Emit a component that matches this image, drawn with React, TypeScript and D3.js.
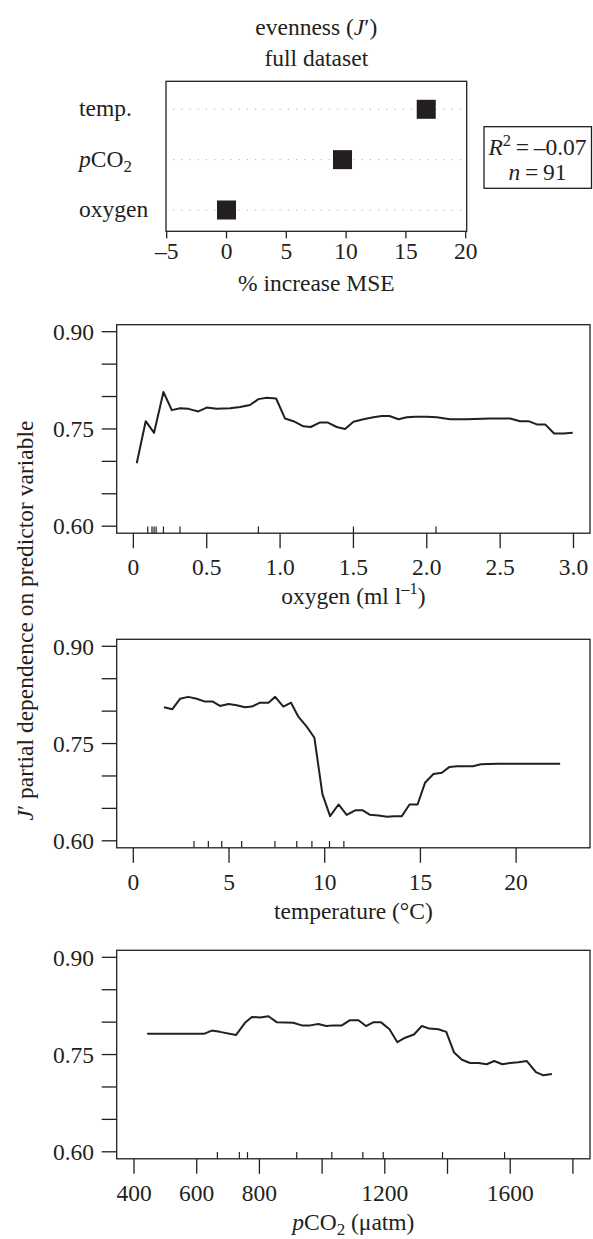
import React from "react";
import * as d3 from "d3";

// ---------- Top dot chart ----------
const predictors = ["temp.", "pCO2", "oxygen"];
const mseIncrease = [16.7, 9.7, 0.0];
const mseTicks = [-5, 0, 5, 10, 15, 20];

// ---------- Partial dependence: oxygen ----------
const oxygenX = [0.023, 0.084, 0.141, 0.205, 0.262, 0.318, 0.375, 0.443, 0.5, 0.568, 0.659, 0.727, 0.795, 0.852, 0.909, 0.973, 1.034, 1.091, 1.159, 1.209, 1.273, 1.323, 1.386, 1.443, 1.5, 1.568, 1.636, 1.693, 1.745, 1.807, 1.864, 1.92, 2.0, 2.068, 2.159, 2.273, 2.432, 2.568, 2.636, 2.693, 2.75, 2.807, 2.868, 2.931, 2.995];
const oxygenY = [0.697, 0.762, 0.744, 0.807, 0.779, 0.782, 0.781, 0.777, 0.783, 0.781, 0.782, 0.784, 0.787, 0.796, 0.798, 0.797, 0.766, 0.762, 0.754, 0.753, 0.76, 0.76, 0.753, 0.75, 0.761, 0.765, 0.768, 0.77, 0.77, 0.765, 0.768, 0.769, 0.769, 0.768, 0.765, 0.765, 0.766, 0.766, 0.762, 0.762, 0.757, 0.757, 0.743, 0.743, 0.744];
const oxygenRug = [0.098, 0.127, 0.141, 0.155, 0.205, 0.318, 0.852, 1.5, 2.063];
const oxygenTicks = [0, 0.5, 1.0, 1.5, 2.0, 2.5, 3.0];

// ---------- Partial dependence: temperature ----------
const tempX = [1.6, 2.04, 2.44, 2.87, 3.31, 3.7, 4.13, 4.53, 4.97, 5.4, 5.84, 6.19, 6.62, 7.06, 7.41, 7.84, 8.24, 8.63, 9.06, 9.46, 9.88, 10.28, 10.72, 11.15, 11.59, 11.99, 12.37, 12.81, 13.25, 13.63, 14.03, 14.43, 14.85, 15.25, 15.68, 16.12, 16.52, 16.91, 17.74, 18.16, 19.0, 20.39, 22.3];
const tempY = [0.806, 0.803, 0.819, 0.822, 0.819, 0.815, 0.815, 0.808, 0.811, 0.809, 0.806, 0.807, 0.813, 0.813, 0.822, 0.807, 0.813, 0.791, 0.776, 0.759, 0.672, 0.638, 0.656, 0.64, 0.647, 0.647, 0.64, 0.639, 0.637, 0.638, 0.638, 0.656, 0.656, 0.69, 0.703, 0.705, 0.714, 0.715, 0.715, 0.718, 0.719, 0.719, 0.719];
const tempRug = [3.17, 3.92, 4.62, 5.66, 7.4, 8.54, 9.33, 10.25, 11.0];
const tempTicks = [0, 5, 10, 15, 20];

// ---------- Partial dependence: pCO2 ----------
const pco2X = [442, 623, 648, 674, 725, 754, 776, 802, 829, 855, 908, 935, 962, 988, 1013, 1036, 1063, 1089, 1116, 1140, 1164, 1187, 1215, 1240, 1265, 1293, 1318, 1342, 1371, 1396, 1421, 1446, 1472, 1499, 1525, 1549, 1575, 1600, 1626, 1653, 1682, 1706, 1733];
const pco2Y = [0.782, 0.782, 0.787, 0.785, 0.78, 0.799, 0.808, 0.807, 0.809, 0.8, 0.799, 0.795, 0.795, 0.797, 0.794, 0.795, 0.795, 0.803, 0.803, 0.794, 0.8, 0.8, 0.789, 0.769, 0.776, 0.781, 0.794, 0.79, 0.789, 0.785, 0.753, 0.742, 0.737, 0.737, 0.735, 0.74, 0.735, 0.737, 0.738, 0.74, 0.723, 0.718, 0.72];
const pco2Rug = [666, 736, 762, 919, 1031, 1130, 1195, 1384, 1582];
const pco2Ticks = [400, 600, 800, 1000, 1200, 1400, 1600, 1800];
const pco2Labelled = [400, 600, 800, 1200, 1600];

const yMajor = [0.6, 0.75, 0.9];
const yAll = [0.6, 0.65, 0.7, 0.75, 0.8, 0.85, 0.9];

const FONT = "'Liberation Serif', 'Times New Roman', serif";
const FS = 23.5;
const INK = "#231f20";

type PanelProps = {
  top: number;
  xs: number[];
  ys: number[];
  rug: number[];
  ticks: number[];
  labelled: number[];
  domain: [number, number];
  fmt: (v: number) => string;
  title: React.ReactNode;
};

const BOX_L = 116.7;
const BOX_R = 590;
const BOX_H = 208.5;

function Panel({ top, xs, ys, rug, ticks, labelled, domain, fmt, title }: PanelProps) {
  const bottom = top + BOX_H;
  const x = d3.scaleLinear().domain(domain).range([BOX_L, BOX_R]);
  const y = d3.scaleLinear().domain([0.5892, 0.9108]).range([bottom, top]);
  const pts: [number, number][] = xs.map((v, i) => [v, ys[i]]);
  const line = d3
    .line<[number, number]>()
    .x((d) => x(d[0]))
    .y((d) => y(d[1]));
  return (
    <g>
      <rect x={BOX_L} y={top} width={BOX_R - BOX_L} height={BOX_H} fill="none" stroke={INK} strokeWidth={1.3} />
      {yAll.map((v) => (
        <line key={v} x1={BOX_L - 15} x2={BOX_L} y1={y(v)} y2={y(v)} stroke={INK} strokeWidth={1.3} />
      ))}
      {yMajor.map((v) => (
        <text key={v} x={94} y={y(v)} dy="0.35em" textAnchor="end" fontSize={FS} fontFamily={FONT} fill={INK}>
          {v.toFixed(2)}
        </text>
      ))}
      {ticks.map((v) => (
        <line key={v} x1={x(v)} x2={x(v)} y1={bottom} y2={bottom + 15} stroke={INK} strokeWidth={1.3} />
      ))}
      {labelled.map((v) => (
        <text key={v} x={x(v)} y={bottom + 42} textAnchor="middle" fontSize={FS} fontFamily={FONT} fill={INK}>
          {fmt(v)}
        </text>
      ))}
      {rug.map((v, i) => (
        <line key={i} x1={x(v)} x2={x(v)} y1={bottom} y2={bottom - 6.7} stroke={INK} strokeWidth={1.2} />
      ))}
      <path d={line(pts) || ""} fill="none" stroke={INK} strokeWidth={2} strokeLinejoin="round" />
      <text x={(BOX_L + BOX_R) / 2} y={bottom + 71} textAnchor="middle" fontSize={FS} fontFamily={FONT} fill={INK}>
        {title}
      </text>
    </g>
  );
}

export default function App() {
  const dx = d3.scaleLinear().domain([-5, 20]).range([166.7, 465.7]);
  const dy = d3.scalePoint<string>().domain(predictors).range([109.3, 210]);
  const dotL = 166;
  const dotR = 466.7;
  const dotT = 81.3;
  const dotB = 231.3;
  const sq = 19;

  return (
    <svg
      width={593}
      height={1239}
      style={{ position: "absolute", left: 0, top: 0, background: "#fff" }}
      fontFamily={FONT}
    >
      <rect x={0} y={0} width={593} height={1239} fill="#fff" />
      {/* titles */}
      <text x={316.3} y={35} textAnchor="middle" fontSize={FS} fill={INK}>
        evenness (<tspan fontStyle="italic">J</tspan>′)
      </text>
      <text x={316.3} y={66} textAnchor="middle" fontSize={FS} fill={INK}>
        full dataset
      </text>

      {/* dot chart */}
      {predictors.map((p) => (
        <line
          key={p}
          x1={173}
          x2={462}
          y1={dy(p)}
          y2={dy(p)}
          stroke="#b0b0b0"
          strokeWidth={1}
          strokeDasharray="1.2 7"
        />
      ))}
      <rect x={dotL} y={dotT} width={dotR - dotL} height={dotB - dotT} fill="none" stroke={INK} strokeWidth={1.3} />
      {predictors.map((p, i) => (
        <rect
          key={p}
          x={dx(mseIncrease[i]) - sq / 2}
          y={(dy(p) as number) - sq / 2}
          width={sq}
          height={sq}
          fill={INK}
        />
      ))}
      {predictors.map((p) => (
        <text key={p} x={79} y={dy(p)} dy="0.3em" fontSize={FS} fill={INK}>
          {p === "pCO2" ? (
            <>
              <tspan fontStyle="italic">p</tspan>CO
              <tspan fontSize={FS * 0.72} dy="0.3em">2</tspan>
            </>
          ) : (
            p
          )}
        </text>
      ))}
      {mseTicks.map((t) => (
        <g key={t}>
          <line x1={dx(t)} x2={dx(t)} y1={dotB} y2={dotB + 7} stroke={INK} strokeWidth={1.3} />
          <text x={dx(t)} y={259} textAnchor="middle" fontSize={FS} fill={INK}>
            {t < 0 ? "–" + Math.abs(t) : t}
          </text>
        </g>
      ))}
      <text x={316.3} y={291} textAnchor="middle" fontSize={FS} fill={INK}>
        % increase MSE
      </text>

      {/* R2 box */}
      <rect x={484} y={126.7} width={107.5} height={61.6} fill="none" stroke={INK} strokeWidth={1.3} />
      <text x={537.5} y={155} textAnchor="middle" fontSize={FS} fill={INK}>
        <tspan fontStyle="italic">R</tspan>
        <tspan fontSize={FS * 0.7} dy="-0.55em">2</tspan>
        <tspan dy="0.385em">{"\u2009=\u2009–0.07"}</tspan>
      </text>
      <text x={537.5} y={180} textAnchor="middle" fontSize={FS} fill={INK}>
        <tspan fontStyle="italic">n</tspan>
        {"\u2009=\u200991"}
      </text>

      {/* y axis label */}
      <text
        transform="translate(33,620.5) rotate(-90)"
        textAnchor="middle"
        fontSize={FS}
        fill={INK}
      >
        <tspan fontStyle="italic">J</tspan>′ partial dependence on predictor variable
      </text>

      <Panel
        top={324.7}
        xs={oxygenX}
        ys={oxygenY}
        rug={oxygenRug}
        ticks={oxygenTicks}
        labelled={oxygenTicks}
        domain={[-0.1136, 3.1125]}
        fmt={(v) => (v === 0 ? "0" : v.toFixed(1))}
        title={
          <>
            oxygen (ml l<tspan fontSize={FS * 0.7} dy="-0.6em">–1</tspan>
            <tspan dy="0.42em">)</tspan>
          </>
        }
      />
      <Panel
        top={639.3}
        xs={tempX}
        ys={tempY}
        rug={tempRug}
        ticks={tempTicks}
        labelled={tempTicks}
        domain={[-0.868, 23.86]}
        fmt={(v) => String(v)}
        title={<>temperature (°C)</>}
      />
      <Panel
        top={950.3}
        xs={pco2X}
        ys={pco2Y}
        rug={pco2Rug}
        ticks={pco2Ticks}
        labelled={pco2Labelled}
        domain={[344.8, 1854.5]}
        fmt={(v) => String(v)}
        title={
          <>
            <tspan fontStyle="italic">p</tspan>CO
            <tspan fontSize={FS * 0.72} dy="0.3em">2</tspan>
            <tspan dy="-0.22em"> (μatm)</tspan>
          </>
        }
      />
    </svg>
  );
}
